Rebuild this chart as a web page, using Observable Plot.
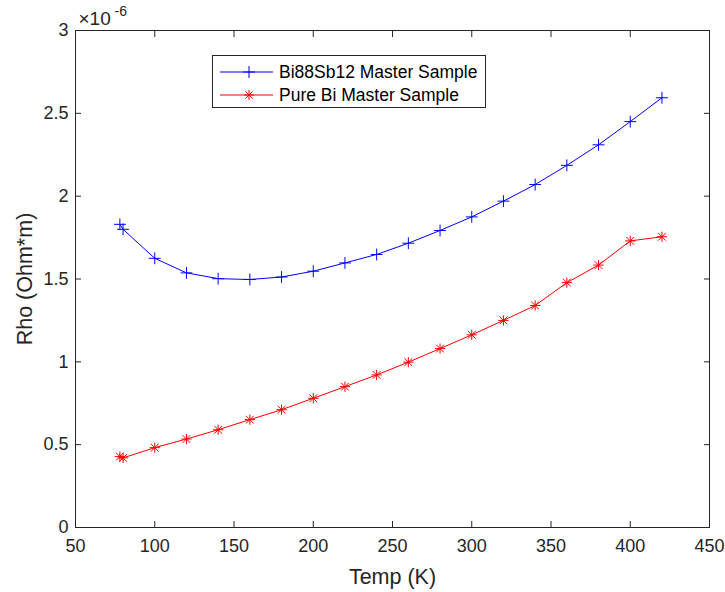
<!DOCTYPE html>
<html>
<head>
<meta charset="utf-8">
<script src="https://cdn.jsdelivr.net/npm/d3@7"></script>
<script src="https://cdn.jsdelivr.net/npm/@observablehq/plot@0.6"></script>
<style>
  body { margin: 0; background: #fff; font-family: "Liberation Sans", Arial, sans-serif; }
  #wrap { position: relative; width: 725px; height: 592px; }
  #legend { position: absolute; left: 212px; top: 55px; width: 272px; height: 51px; border: 1px solid #262626; background: #fff; font-size: 17.5px; color: #000; }
  #legend .row { position: absolute; left: 0; height: 20px; display: flex; align-items: center; white-space: nowrap; }
  #legend svg { display: block; }
  #legend span { margin-left: 4px; }
</style>
</head>
<body>
<div id="wrap"></div>
<script>
// Temperature (K)
const temps = [78, 80, 100, 120, 140, 160, 180, 200, 220, 240, 260, 280, 300, 320, 340, 360, 380, 400, 420];
// Rho, units of 1e-6 Ohm*m
const bi88sb12 = [1.83, 1.80, 1.625, 1.537, 1.502, 1.497, 1.512, 1.547, 1.597, 1.648, 1.716, 1.793, 1.875, 1.970, 2.070, 2.186, 2.310, 2.450, 2.594];
const pureBi   = [0.428, 0.420, 0.482, 0.534, 0.590, 0.651, 0.711, 0.780, 0.850, 0.921, 0.998, 1.080, 1.163, 1.250, 1.340, 1.478, 1.584, 1.730, 1.755];
const seriesNames = ["Bi88Sb12 Master Sample", "Pure Bi Master Sample"];
const seriesColors = ["#0000ff", "#ff0000"];
const xTicks = [50, 100, 150, 200, 250, 300, 350, 400, 450];
const yTicks = [0, 0.5, 1, 1.5, 2, 2.5, 3];
const xLabel = "Temp (K)";
const yLabel = "Rho (Ohm*m)";

const blue = temps.map((t, i) => ({T: t, rho: bi88sb12[i]}));
const red = temps.map((t, i) => ({T: t, rho: pureBi[i]}));

const axisColor = "#262626";
const font = "Liberation Sans, Arial, sans-serif";
const chart = Plot.plot({
  width: 725,
  height: 592,
  marginLeft: 75,
  marginRight: 16,
  marginTop: 30,
  marginBottom: 65,
  style: {fontFamily: font, fontSize: "18px", color: axisColor, background: "#fff"},
  x: {domain: [50, 450]},
  y: {domain: [0, 3]},
  marks: [
    Plot.frame({stroke: axisColor}),
    // labels only
    Plot.axisX({anchor: "bottom", ticks: xTicks, tickSize: 0, tickPadding: 12, tickFormat: d => d, label: null, fill: axisColor, fontSize: 18}),
    Plot.axisY({anchor: "left", ticks: yTicks, tickSize: 0, tickPadding: 7, tickFormat: d => d, label: null, fill: axisColor, fontSize: 18}),
    // inward ticks on all four sides
    Plot.axisX({anchor: "bottom", ticks: xTicks, tickSize: 6, dy: -6, tickFormat: () => "", label: null, stroke: axisColor}),
    Plot.axisX({anchor: "top", ticks: xTicks, tickSize: 6, dy: 6, tickFormat: () => "", label: null, stroke: axisColor}),
    Plot.axisY({anchor: "left", ticks: yTicks, tickSize: 6, dx: 6, tickFormat: () => "", label: null, stroke: axisColor}),
    Plot.axisY({anchor: "right", ticks: yTicks, tickSize: 6, dx: -6, tickFormat: () => "", label: null, stroke: axisColor}),
    // axis titles
    Plot.text([xLabel], {frameAnchor: "bottom", text: d => d, dy: 50, textAnchor: "middle", lineAnchor: "middle", fontSize: 21.5, fill: axisColor}),
    Plot.text([yLabel], {frameAnchor: "left", text: d => d, dx: -50, rotate: -90, textAnchor: "middle", lineAnchor: "middle", fontSize: 21.5, fill: axisColor}),
    // exponent
    Plot.text(["×10"], {frameAnchor: "top-left", text: d => d, dx: 3, dy: -12, textAnchor: "start", lineAnchor: "middle", fontSize: 19, fill: axisColor}),
    Plot.text(["-6"], {frameAnchor: "top-left", text: d => d, dx: 39, dy: -19, textAnchor: "start", lineAnchor: "middle", fontSize: 14, fill: axisColor}),
    // data
    Plot.line(blue, {x: "T", y: "rho", stroke: seriesColors[0], strokeWidth: 1}),
    Plot.dot(blue, {x: "T", y: "rho", symbol: "plus", r: 3.9, stroke: seriesColors[0], strokeWidth: 1}),
    Plot.line(red, {x: "T", y: "rho", stroke: seriesColors[1], strokeWidth: 1}),
    Plot.dot(red, {x: "T", y: "rho", symbol: "plus", r: 3.4, stroke: seriesColors[1], strokeWidth: 1}),
    Plot.dot(red, {x: "T", y: "rho", symbol: "times", r: 3.6, stroke: seriesColors[1], strokeWidth: 1})
  ]
});
chart.style.display = "block";
const wrap = document.getElementById("wrap");
wrap.appendChild(chart);

// Legend overlay
const legend = document.createElement("div");
legend.id = "legend";
const rowTops = [6, 29];
seriesNames.forEach((name, i) => {
  const row = document.createElement("div");
  row.className = "row";
  row.style.top = rowTops[i] + "px";
  const c = seriesColors[i];
  let marker;
  if (i === 0) {
    marker = `<line x1="36" x2="36" y1="4" y2="16" stroke="${c}"/><line x1="30" x2="42" y1="10" y2="10" stroke="${c}"/>`;
  } else {
    marker = `<line x1="36" x2="36" y1="5" y2="15" stroke="${c}"/><line x1="31" x2="41" y1="10" y2="10" stroke="${c}"/><line x1="32.5" x2="39.5" y1="6.5" y2="13.5" stroke="${c}"/><line x1="32.5" x2="39.5" y1="13.5" y2="6.5" stroke="${c}"/>`;
  }
  row.innerHTML = `<svg width="62" height="20"><line x1="7" x2="60" y1="10" y2="10" stroke="${c}"/>${marker}</svg><span>${name}</span>`;
  legend.appendChild(row);
});
wrap.appendChild(legend);
</script>
</body>
</html>
